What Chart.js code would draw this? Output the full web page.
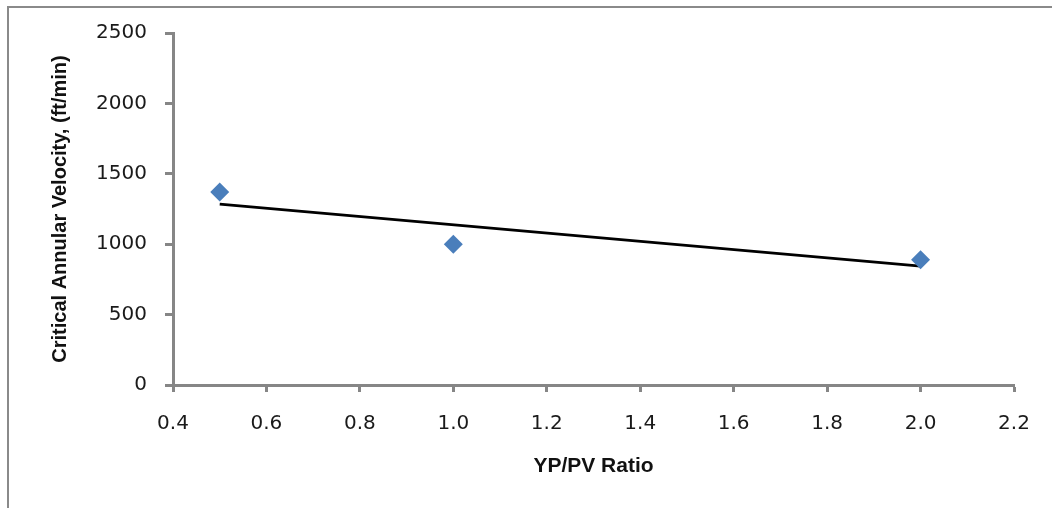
<!DOCTYPE html>
<html>
<head>
<meta charset="utf-8">
<script src="https://cdn.jsdelivr.net/npm/chart.js@4.4.1/dist/chart.umd.min.js"></script>
<style>
  html, body { margin: 0; padding: 0; background: #fff; }
  #wrap { position: relative; width: 1052px; height: 508px; overflow: hidden; }
  #frame { position: absolute; left: 7px; top: 6px; width: 1100px; height: 600px;
           border-top: 2px solid #8a8a8a; border-left: 2px solid #8a8a8a; }
  #holder { position: absolute; left: 0; top: 0; width: 1052px; height: 508px; }
</style>
</head>
<body>
<div id="wrap">
  <div id="frame"></div>
  <div id="holder"><canvas id="grafico"></canvas></div>
</div>
<script>
// valores
const ratioYPPV = [0.5, 1.0, 2.0];
const velocidadCritica = [1370, 1000, 890];
const tendenciaX = [0.5, 2.0];
const tendenciaY = [1285, 845];
const xTicks = [0.4, 0.6, 0.8, 1.0, 1.2, 1.4, 1.6, 1.8, 2.0, 2.2];
const yTicks = [0, 500, 1000, 1500, 2000, 2500];

const gris = '#868686';
const fuenteTicks = { family: "'DejaVu Sans', sans-serif", size: 20 };
const fuenteTituloX = { family: "'Liberation Sans Narrow', 'Liberation Sans', sans-serif", size: 21, weight: 'bold' };
const fuenteTituloY = { family: "'Liberation Sans Narrow', 'Liberation Sans', sans-serif", size: 20, weight: 'bold' };

const puntos = ratioYPPV.map((x, i) => ({ x: x, y: velocidadCritica[i] }));
const linea = tendenciaX.map((x, i) => ({ x: x, y: tendenciaY[i] }));

const ctx = document.getElementById("grafico").getContext("2d");
new Chart(ctx, {
  type: 'scatter',
  data: {
    datasets: [
      { label: 'Datos', data: puntos, pointStyle: 'rectRot', pointRadius: 9.5, pointHoverRadius: 9.5,
        backgroundColor: '#4a7ebb', borderColor: '#4a7ebb', borderWidth: 0 },
      { label: 'Tendencia', type: 'line', data: linea, borderColor: '#000', borderWidth: 2.8,
        pointRadius: 0, fill: false, tension: 0 }
    ]
  },
  options: {
    responsive: true,
    maintainAspectRatio: false,
    animation: false,
    layout: { padding: { left: 0, top: 33, right: 38, bottom: 0 } },
    plugins: { legend: { display: false }, tooltip: { enabled: false } },
    scales: {
      x: {
        type: 'linear', min: 0.4, max: 2.2,
        afterBuildTicks: s => { s.ticks = xTicks.map(v => ({ value: v })); },
        afterFit: s => { s.height = 123; },
        ticks: { color: '#1a1a1a', font: fuenteTicks, padding: 20, callback: v => v.toFixed(1) },
        grid: { drawOnChartArea: false, drawTicks: true, tickLength: 7, tickColor: gris, tickWidth: 3 },
        border: { color: gris, width: 3 },
        title: { display: true, text: 'YP/PV Ratio', color: '#111', font: fuenteTituloX, padding: { top: 0, bottom: 29 } }
      },
      y: {
        type: 'linear', min: 0, max: 2500,
        afterBuildTicks: s => { s.ticks = yTicks.map(v => ({ value: v })); },
        afterFit: s => { s.width = 173; },
        ticks: { color: '#1a1a1a', font: fuenteTicks, padding: 18, callback: v => String(v) },
        grid: { drawOnChartArea: false, drawTicks: true, tickLength: 8, tickColor: gris, tickWidth: 3 },
        border: { color: gris, width: 3 },
        title: { display: true, text: 'Critical Annular Velocity, (ft/min)', color: '#111', font: fuenteTituloY, padding: { top: 48, bottom: 0 } }
      }
    }
  }
});
</script>
</body>
</html>
